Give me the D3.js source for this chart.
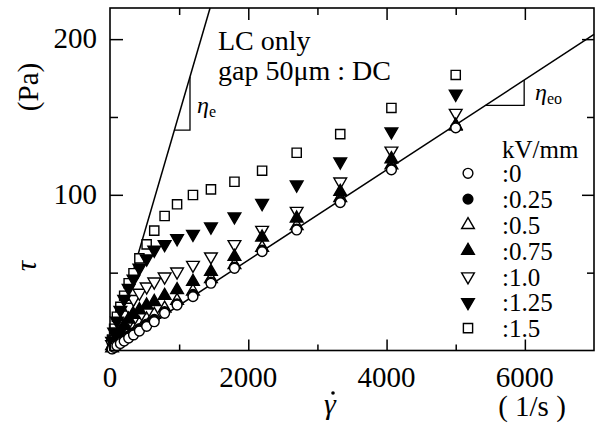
<!DOCTYPE html>
<html><head><meta charset="utf-8"><script src="https://cdn.jsdelivr.net/npm/d3@7"></script></head>
<body style="margin:0">
<svg id="chart" width="599" height="426"></svg>
<script>
// shear rate (1/s) and shear stress (Pa) for each field strength
var rates = [30, 60, 100, 150, 205, 270, 340, 425, 530, 640, 790, 970, 1200, 1460, 1800, 2200, 2700, 3330, 4070, 5000];
var tau0 = [1, 2, 3, 4.5, 6, 8, 10, 12.5, 15.5, 18.5, 23.9, 29.2, 34.6, 43.2, 52.8, 63.5, 77.4, 95, 116, 143];
var tau025 = [1.2, 2.5, 4, 5.5, 7.5, 9.5, 11.5, 14, 17, 20, 25, 30, 36, 44, 53.5, 64.5, 78, 96, 117, 143.5];
var tau05 = [1.5, 3, 5, 7, 9, 12, 14, 17, 20, 23, 27, 32, 38, 46, 55, 66, 80, 98, 119, 144];
var tau075 = [3, 5, 9, 12, 16, 20, 23, 26, 29, 31.3, 35.2, 38.9, 44.2, 50.6, 60.3, 72.7, 84.9, 102, 123, 144.5];
var tau10 = [4, 7, 12, 17, 23, 28, 33, 37, 41, 44.2, 47.4, 50.6, 54.9, 60.3, 68.2, 77.4, 89.6, 108.4, 128.3, 152.5];
var tau125 = [6, 12, 19, 26, 33, 40, 46, 53, 59, 64.6, 68.2, 72, 74.8, 79.5, 86, 94.6, 106.5, 121.3, 140.6, 164.8];
var tau15 = [7, 14, 21.7, 28, 35.2, 43.2, 49.6, 59.2, 68.2, 77, 86.4, 93.9, 99.9, 103.5, 108.4, 115.5, 127, 139, 155.8, 177];

var fieldLabels = [":0", ":0.25", ":0.5", ":0.75", ":1.0", ":1.25", ":1.5"];
var xTicks = [0, 2000, 4000, 6000];
var xMinor = [1000, 3000, 5000];
var yTicks = [100, 200];
var yMinor = [50, 150];

// slopes of the two reference lines (Pa s)
var etaE = 0.152;
var etaEo = 0.029;

var svg = d3.select("#chart");
var x = d3.scaleLinear().domain([0, 7000]).range([110, 594]);
var y = d3.scaleLinear().domain([0, 220]).range([350.5, 8]);

// every label goes through here so it gets the Times-like face
function label(px, py, size, str) {
  return svg.append("text")
    .attr("font-family", "'Liberation Serif'")
    .attr("font-size", size)
    .attr("x", px).attr("y", py)
    .text(str);
}

var series = [
  { vals: tau15, sym: d3.symbolSquare, size: 85, fill: false, rot: 0 },
  { vals: tau10, sym: d3.symbolTriangle, size: 70, fill: false, rot: 180 },
  { vals: tau05, sym: d3.symbolTriangle, size: 70, fill: false, rot: 0 },
  { vals: tau125, sym: d3.symbolTriangle, size: 70, fill: true, rot: 180 },
  { vals: tau075, sym: d3.symbolTriangle, size: 70, fill: true, rot: 0 },
  { vals: tau025, sym: d3.symbolCircle, size: 75, fill: true, rot: 0 },
  { vals: tau0, sym: d3.symbolCircle, size: 75, fill: false, rot: 0 }
];
// legend order (0 -> 1.5)
var legendOrder = [6, 5, 2, 4, 1, 3, 0];

// reference lines
var line = d3.line().x(function (d) { return x(d[0]); }).y(function (d) { return y(d[1]); });
svg.append("path")
  .attr("d", line([[0, 0], [220 / etaE, 220]]))
  .attr("fill", "none").attr("stroke", "#000").attr("stroke-width", 1.5);
svg.append("path")
  .attr("d", line([[0, 0], [7000, 7000 * etaEo]]))
  .attr("fill", "none").attr("stroke", "#000").attr("stroke-width", 1.5);

// slope triangles
var tE = 141.6, xE2 = 1157;
svg.append("path")
  .attr("d", line([[tE / etaE, tE], [xE2, tE], [xE2, xE2 * etaE]]))
  .attr("fill", "none").attr("stroke", "#000").attr("stroke-width", 1.3);
var tEo = 157.5, xEo2 = 5990;
svg.append("path")
  .attr("d", line([[tEo / etaEo, tEo], [xEo2, tEo], [xEo2, xEo2 * etaEo]]))
  .attr("fill", "none").attr("stroke", "#000").attr("stroke-width", 1.3);

// data markers
series.forEach(function (s) {
  svg.append("g")
    .selectAll("path")
    .data(s.vals.map(function (v, i) { return [rates[i], v]; }))
    .enter()
    .append("path")
    .attr("d", d3.symbol().type(s.sym).size(s.size))
    .attr("transform", function (d) {
      return "translate(" + x(d[0]) + "," + y(d[1]) + ") rotate(" + s.rot + ")";
    })
    .attr("fill", s.fill ? "#000" : "#fff")
    .attr("stroke", "#000")
    .attr("stroke-width", 1.4);
});

// frame
svg.append("rect")
  .attr("x", x(0)).attr("y", y(220))
  .attr("width", x(7000) - x(0)).attr("height", y(0) - y(220))
  .attr("fill", "none").attr("stroke", "#000").attr("stroke-width", 1.6);

// inward ticks from d3 axes, labels drawn separately
function styleAxis(g) {
  g.select(".domain").remove();
  g.selectAll("line").attr("stroke", "#000").attr("stroke-width", 1.5);
}
svg.append("g").attr("transform", "translate(0," + y(0) + ")")
  .call(d3.axisBottom(x).tickValues(xTicks).tickSize(-11).tickFormat("")).call(styleAxis);
svg.append("g").attr("transform", "translate(0," + y(0) + ")")
  .call(d3.axisBottom(x).tickValues(xMinor).tickSize(-6).tickFormat("")).call(styleAxis);
svg.append("g").attr("transform", "translate(0," + y(220) + ")")
  .call(d3.axisTop(x).tickValues(xTicks.slice(1)).tickSize(-12).tickFormat("")).call(styleAxis);
svg.append("g").attr("transform", "translate(0," + y(220) + ")")
  .call(d3.axisTop(x).tickValues(xMinor).tickSize(-7).tickFormat("")).call(styleAxis);
svg.append("g").attr("transform", "translate(" + x(0) + ",0)")
  .call(d3.axisLeft(y).tickValues(yTicks).tickSize(-13).tickFormat("")).call(styleAxis);
svg.append("g").attr("transform", "translate(" + x(0) + ",0)")
  .call(d3.axisLeft(y).tickValues(yMinor).tickSize(-8).tickFormat("")).call(styleAxis);
svg.append("g").attr("transform", "translate(" + x(7000) + ",0)")
  .call(d3.axisRight(y).tickValues(yTicks).tickSize(-12).tickFormat("")).call(styleAxis);
svg.append("g").attr("transform", "translate(" + x(7000) + ",0)")
  .call(d3.axisRight(y).tickValues(yMinor).tickSize(-7).tickFormat("")).call(styleAxis);

xTicks.forEach(function (t) {
  label(x(t), 387, 29, String(t)).attr("text-anchor", "middle");
});
yTicks.forEach(function (t) {
  label(97, y(t) + 9, 29, String(t)).attr("text-anchor", "end");
});

// axis titles
label(0, 0, 29, "(Pa)").attr("transform", "translate(38,87) rotate(-90)").attr("text-anchor", "middle");
label(0, 0, 29, "τ").attr("transform", "translate(36,266) rotate(-90)")
  .attr("text-anchor", "middle").attr("font-style", "italic");
label(330, 414, 30, "γ").attr("text-anchor", "middle").attr("font-style", "italic");
svg.append("circle").attr("cx", 333).attr("cy", 393).attr("r", 1.8).attr("fill", "#000");
label(532, 416, 29, "( 1/s )").attr("text-anchor", "middle");

// annotations
label(218, 50, 28, "LC only");
label(218, 80, 28, "gap 50μm : DC");

var lblE = label(197, 113, 24, null);
lblE.append("tspan").attr("font-style", "italic").text("η");
lblE.append("tspan").attr("dy", 4).attr("font-size", 16).text("e");
var lblEo = label(535, 100, 24, null);
lblEo.append("tspan").attr("font-style", "italic").text("η");
lblEo.append("tspan").attr("dy", 4).attr("font-size", 16).text("eo");

// legend
label(502, 158, 25, "kV/mm");
legendOrder.forEach(function (si, i) {
  var s = series[si];
  var cy = 173.3 + i * 25.8;
  svg.append("path")
    .attr("d", d3.symbol().type(s.sym).size(s.size))
    .attr("transform", "translate(468," + cy + ") rotate(" + s.rot + ")")
    .attr("fill", s.fill ? "#000" : "#fff")
    .attr("stroke", "#000")
    .attr("stroke-width", 1.4);
  label(502, cy + 9, 25, fieldLabels[i]);
});
</script>
</body>
</html>
